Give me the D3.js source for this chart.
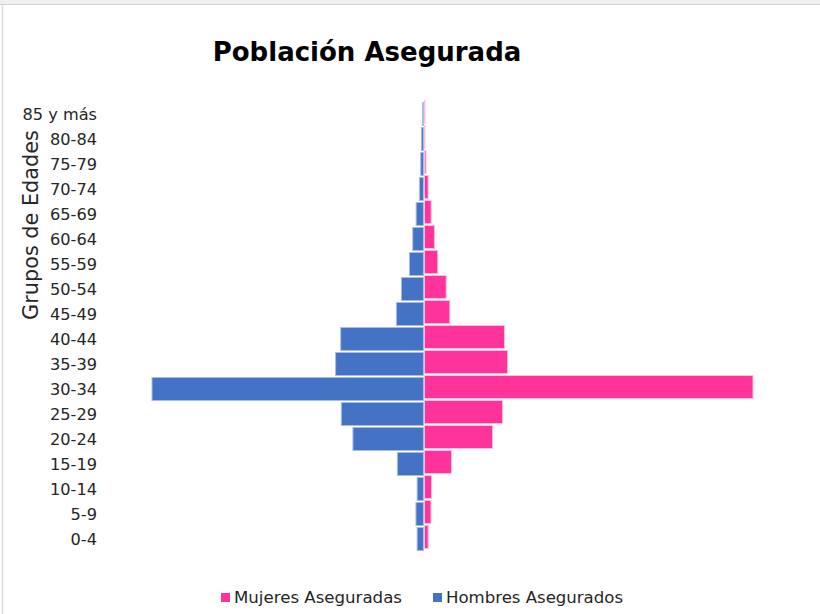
<!DOCTYPE html>
<html>
<head>
<meta charset="utf-8">
<script src="https://cdn.jsdelivr.net/npm/d3@7"></script>
<style>
  html, body { margin: 0; padding: 0; background: #fff; }
  svg { display: block; }
</style>
</head>
<body>
<svg id="chart" width="820" height="614"></svg>
<script>
// ---- data ----
const categories = ["0-4","5-9","10-14","15-19","20-24","25-29","30-34","35-39","40-44","45-49","50-54","55-59","60-64","65-69","70-74","75-79","80-84","85 y más"];
const mujeres = [37, 65, 70, 270, 680, 780, 3280, 830, 800, 253, 217, 133, 100, 67, 37, 15, 5, 5];
const hombres = [63, 75, 63, 260, 704, 820, 2710, 877, 826, 270, 220, 140, 107, 73, 40, 27, 20, 10];
const seriesNames = ["Mujeres Aseguradas", "Hombres Asegurados"];
const seriesColors = ["#FF3399", "#4472C4"];
const titleText = "Población Asegurada";
const yTitle = "Grupos de Edades";

const FONT = "'DejaVu Sans', 'Noto Sans', sans-serif";
const svg = d3.select("#chart");

// window frame
svg.append("rect").attr("x",0).attr("y",0).attr("width",820).attr("height",4).attr("fill","#f0f0f0");
svg.append("line").attr("x1",0).attr("x2",820).attr("y1",4.5).attr("y2",4.5).attr("stroke","#d2d2d2").attr("stroke-width",1);
svg.append("line").attr("x1",2.5).attr("x2",2.5).attr("y1",5).attr("y2",614).attr("stroke","#dcdcdc").attr("stroke-width",1.5);

// scales
const x = d3.scaleLinear().domain([-2710, 3280]).range([152, 752]);
const y = d3.scaleBand().domain(categories).range([550.5, 100.5]).paddingInner(0.08).paddingOuter(0.04);

const g = svg.append("g");

// hombres (left)
g.selectAll("rect.h").data(categories).join("rect")
  .attr("class","h")
  .attr("x", (d,i) => x(-hombres[i]))
  .attr("width", (d,i) => x(0) - x(-hombres[i]))
  .attr("y", d => y(d) + 1)
  .attr("height", y.bandwidth())
  .attr("fill", seriesColors[1])
  .attr("stroke", "#a9bde3").attr("stroke-width", 1);

// mujeres (right)
g.selectAll("rect.m").data(categories).join("rect")
  .attr("class","m")
  .attr("x", x(0) + 1)
  .attr("width", (d,i) => x(mujeres[i]) - x(0))
  .attr("y", d => y(d) - 1)
  .attr("height", y.bandwidth())
  .attr("fill", seriesColors[0])
  .attr("stroke", "#ffc0df").attr("stroke-width", 1);

// y axis labels
const yAxis = d3.axisLeft(y).tickSize(0).tickPadding(0);
const ya = svg.append("g").attr("transform","translate(97,1.5)").call(yAxis);
ya.select(".domain").remove();
ya.selectAll("text")
  .attr("font-family", FONT)
  .attr("font-size", 16.2)
  .attr("fill","#262626");

// y title
svg.append("text")
  .attr("transform","translate(38,225) rotate(-90)")
  .attr("text-anchor","middle")
  .attr("font-family", FONT)
  .attr("font-size", 20.8)
  .attr("fill","#262626")
  .text(yTitle);

// title
svg.append("text")
  .attr("x", 367).attr("y", 61)
  .attr("text-anchor","middle")
  .attr("font-family", FONT)
  .attr("font-weight","bold")
  .attr("font-size", 26)
  .attr("fill","#000")
  .text(titleText);

// legend
const legX = [221, 433];
const legW = [168, 177];
const leg = svg.append("g");
seriesNames.forEach((name, i) => {
  leg.append("rect").attr("x", legX[i]).attr("y", 593).attr("width", 9).attr("height", 9).attr("fill", seriesColors[i]);
  leg.append("text").attr("x", legX[i] + 13).attr("y", 603)
    .attr("font-family", FONT)
    .attr("font-size", 16)
    .attr("textLength", legW[i])
    .attr("lengthAdjust", "spacingAndGlyphs")
    .attr("fill","#262626")
    .text(name);
});
</script>
</body>
</html>
